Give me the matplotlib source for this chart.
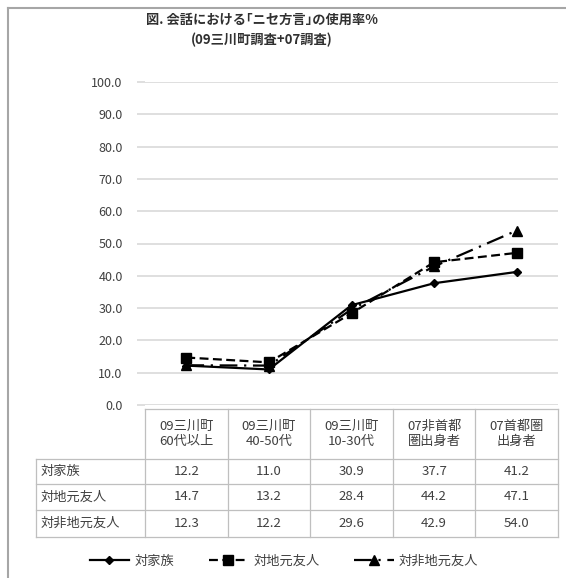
import matplotlib
matplotlib.use("Agg")
import matplotlib.pyplot as plt
from matplotlib.lines import Line2D
import numpy as np

plt.rcParams['font.family'] = ['Noto Sans CJK JP', 'DejaVu Sans']

TITLE = "図. 会話における｢ニセ方言｣の使用率%"
SUBTITLE = "(09三川町調査+07調査)"
CATEGORIES = ["09三川町\n60代以上", "09三川町\n40-50代", "09三川町\n10-30代",
              "07非首都\n圏出身者", "07首都圏\n出身者"]
SERIES = ["対家族", "対地元友人", "対非地元友人"]
FAMILY = [12.2, 11.0, 30.9, 37.7, 41.2]
LOCAL_FRIEND = [14.7, 13.2, 28.4, 44.2, 47.1]
NONLOCAL_FRIEND = [12.3, 12.2, 29.6, 42.9, 54.0]
YTICKS = [0, 10, 20, 30, 40, 50, 60, 70, 80, 90, 100]

W, H = 566, 578
TEXT = '#404040'
GRID = '#d9d9d9'
TABLE_LINE = '#bfbfbf'

fig = plt.figure(figsize=(W / 100, H / 100), dpi=100)
# plot area in pixels: x 145-558, y 82-405
ax = fig.add_axes([145 / W, 1 - 405 / H, (558 - 145) / W, (405 - 82) / H])

values = [FAMILY, LOCAL_FRIEND, NONLOCAL_FRIEND]
styles = [
    dict(linestyle='-', marker='D', markersize=4.5),
    dict(linestyle=(0, (4, 2)), marker='s', markersize=7),
    dict(linestyle=(0, (8, 3, 1, 3)), marker='^', markersize=7),
]
x = np.arange(len(CATEGORIES))
for name, vals, st in zip(SERIES, values, styles):
    ax.plot(x, vals, color='black', linewidth=1.6, label=name, zorder=5, **st)

ax.set_xlim(-0.5, len(CATEGORIES) - 0.5)
ax.set_ylim(0, 100)
ax.set_yticks(YTICKS)
ax.set_yticklabels([f"{v:.1f}" for v in YTICKS], fontsize=9, color=TEXT)
ax.yaxis.grid(True, color=GRID, linewidth=1.2)
ax.set_axisbelow(True)
ax.tick_params(axis='y', length=6, color=GRID, width=1.2, pad=10)
ax.tick_params(axis='x', length=0, labelbottom=False)
for s in ax.spines.values():
    s.set_visible(False)

# data table below the plot (x in data, y in axes fraction)
tr = ax.get_xaxis_transform()
ph = 405 - 82
def yf(py):
    return (405 - py) / ph

label_left = -0.5 - (145 - 36) / ((558 - 145) / len(CATEGORIES))
head_top, head_bot = yf(409), yf(459)
row_edges = [yf(459), yf(484), yf(510), yf(537)]
xr = len(CATEGORIES) - 0.5

def hline(x0, x1, y):
    ax.plot([x0, x1], [y, y], color=TABLE_LINE, lw=0.9, transform=tr, clip_on=False)

def vline(xx, y0, y1):
    ax.plot([xx, xx], [y0, y1], color=TABLE_LINE, lw=0.9, transform=tr, clip_on=False)

hline(-0.5, xr, head_top)
for y in row_edges:
    hline(label_left, xr, y)
vline(label_left, row_edges[0], row_edges[-1])
for i in range(len(CATEGORIES) + 1):
    vline(i - 0.5, head_top, row_edges[-1])

for i, cat in enumerate(CATEGORIES):
    ax.text(i, (head_top + head_bot) / 2, cat, transform=tr, ha='center', va='center',
            fontsize=9.5, color=TEXT, linespacing=1.25)
for r, (name, vals) in enumerate(zip(SERIES, values)):
    yc = (row_edges[r] + row_edges[r + 1]) / 2
    ax.text(label_left + 0.06, yc, name, transform=tr, ha='left', va='center',
            fontsize=9.5, color=TEXT)
    for i, v in enumerate(vals):
        ax.text(i, yc, f"{v:.1f}", transform=tr, ha='center', va='center',
                fontsize=9.5, color=TEXT)

# title
fig.text(262 / W, 1 - 20 / H, TITLE, ha='center', va='center', fontsize=9.5,
         fontweight='bold', color='#303030')
fig.text(262 / W, 1 - 40 / H, SUBTITLE, ha='center', va='center', fontsize=9.5,
         fontweight='bold', color='#303030')

fig.legend(loc='center', bbox_to_anchor=(284 / W, 1 - 561 / H), ncol=3, frameon=False,
           fontsize=9.5, handlelength=3.0, columnspacing=2.6, handletextpad=0.4,
           labelcolor=TEXT)

# partial frame (top and left) of the original screenshot
fig.add_artist(Line2D([8 / W, 8 / W], [0, 1 - 8 / H], color='#a6a6a6', lw=1.5))
fig.add_artist(Line2D([8 / W, 1], [1 - 8 / H, 1 - 8 / H], color='#a6a6a6', lw=1.5))

fig.savefig("out.png", dpi=100)
